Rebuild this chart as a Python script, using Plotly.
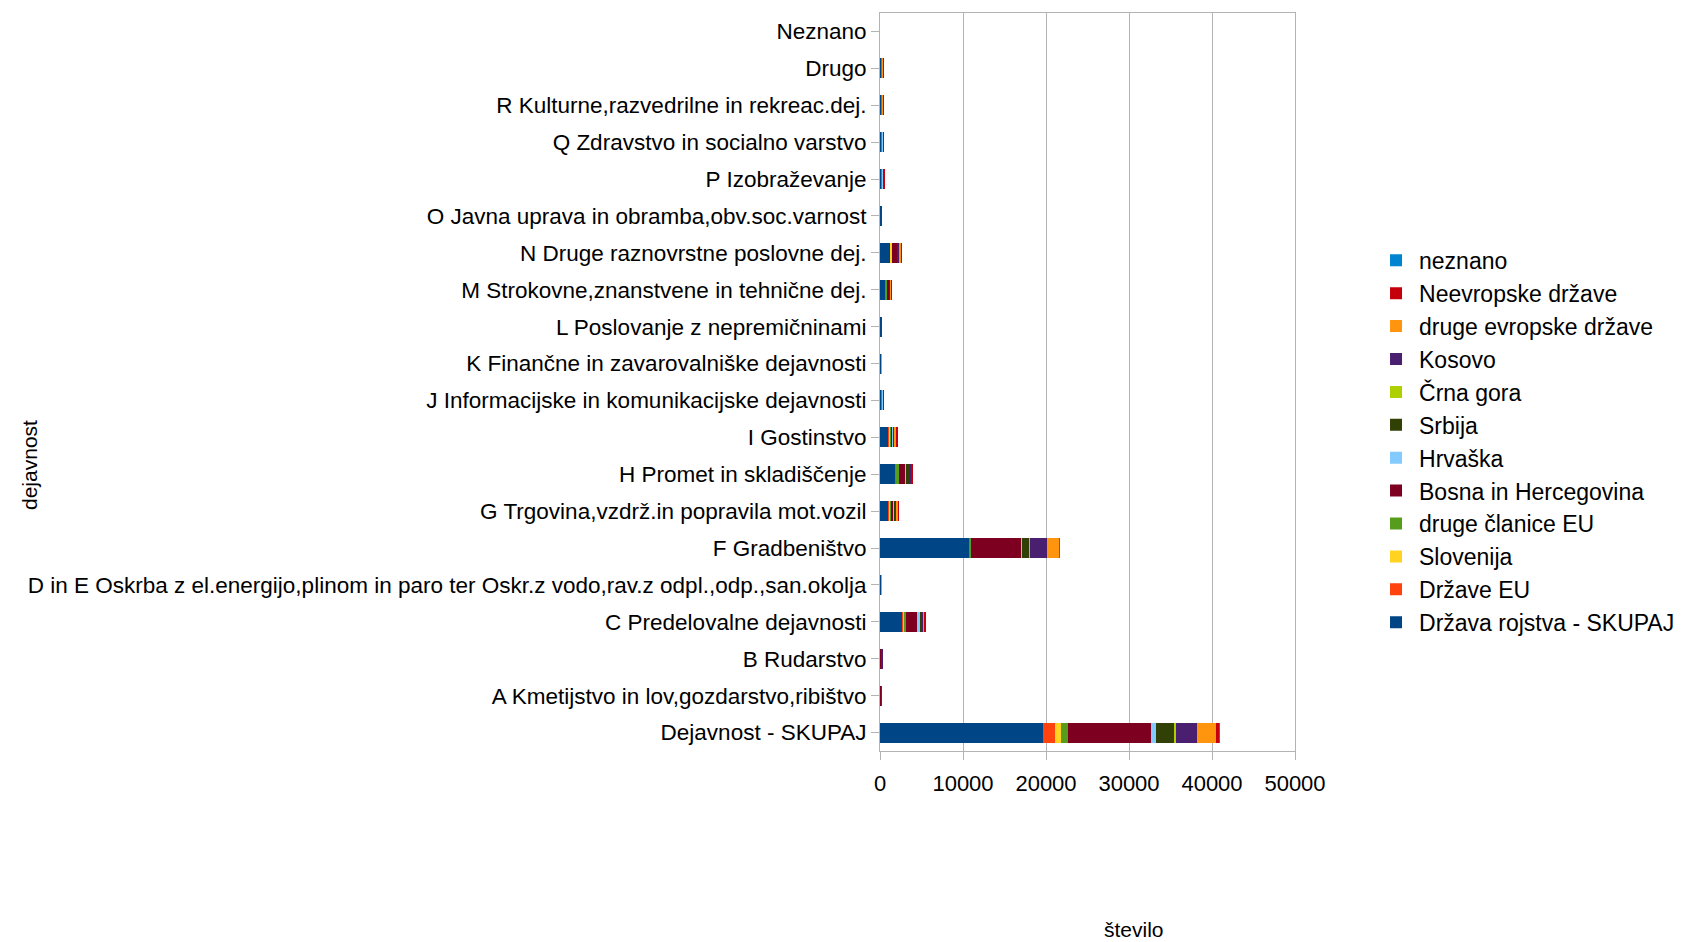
import plotly.graph_objects as go

categories = [
    "Dejavnost - SKUPAJ",
    "A Kmetijstvo in lov,gozdarstvo,ribištvo",
    "B Rudarstvo",
    "C Predelovalne dejavnosti",
    "D in E Oskrba z el.energijo,plinom in paro ter Oskr.z vodo,rav.z odpl.,odp.,san.okolja",
    "F Gradbeništvo",
    "G Trgovina,vzdrž.in popravila mot.vozil",
    "H Promet in skladiščenje",
    "I Gostinstvo",
    "J Informacijske in komunikacijske dejavnosti",
    "K Finančne in zavarovalniške dejavnosti",
    "L Poslovanje z nepremičninami",
    "M Strokovne,znanstvene in tehnične dej.",
    "N Druge raznovrstne poslovne dej.",
    "O Javna uprava in obramba,obv.soc.varnost",
    "P Izobraževanje",
    "Q Zdravstvo in socialno varstvo",
    "R Kulturne,razvedrilne in rekreac.dej.",
    "Drugo",
    "Neznano",
]

#                 SKUP   A    B    C     DE   F      G     H     I     J    K    L    M    N     O    P    Q    R    Drugo Nez
drzava_skupaj  = [19680, 90,  60,  2650, 120, 10830, 1080, 1910, 1080, 220, 120, 120, 680, 1250, 120, 240, 240, 240, 240, 0]
drzave_eu      = [1400,  10,  5,   220,  10,  40,    120,  100,  100,  30,  20,  10,  120, 40,   20,  30,  30,  20,  20,  0]
slovenija      = [760,   5,   0,   40,   0,   40,    40,   20,   60,   0,   0,   0,   20,  180,  0,   0,   0,   10,  0,   0]
druge_clanice  = [840,   5,   5,   220,  10,  10,    60,   200,  40,   20,  0,   0,   80,  20,   0,   20,  0,   0,   0,   0]
bosna          = [9960,  40,  160, 1420, 60,  6110,  380,  820,  250,  40,  40,  40,  200, 560,  40,  30,  40,  10,  0,   0]
hrvaska        = [600,   5,   5,   220,  0,   80,    60,   60,   40,   80,  20,  0,   40,  40,   20,  100, 90,  10,  0,   0]
srbija         = [2280,  15,  10,  340,  20,  870,   200,  580,  120,  20,  20,  20,  50,  180,  20,  0,   20,  0,   0,   0]
crna_gora      = [120,   0,   0,   20,   0,   100,   10,   20,   0,   0,   0,   0,   0,   10,   0,   0,   0,   0,   0,   0]
kosovo         = [2520,  5,   5,   60,   10,  2020,  60,   40,   40,   0,   0,   10,  20,  30,   0,   0,   0,   0,   0,   0]
druge_evropske = [2280,  5,   0,   220,  10,  1470,  180,  100,  220,  20,  20,  10,  120, 230,  10,  40,  30,  160, 190, 0]
neevropske     = [440,   5,   0,   80,   0,   80,    60,   30,   200,  20,  0,   30,  60,  20,   10,  30,  30,  30,  30,  0]
neznano        = [20,    0,   0,   0,   0,   5,     0,    0,    0,    0,   0,   0,   0,   0,    0,   0,   0,   0,   0,   0]

series = [
    ("Država rojstva - SKUPAJ", drzava_skupaj, "#004586"),
    ("Države EU", drzave_eu, "#ff420e"),
    ("Slovenija", slovenija, "#ffd320"),
    ("druge članice EU", druge_clanice, "#579d1c"),
    ("Bosna in Hercegovina", bosna, "#7e0021"),
    ("Hrvaška", hrvaska, "#83caff"),
    ("Srbija", srbija, "#314004"),
    ("Črna gora", crna_gora, "#aecf00"),
    ("Kosovo", kosovo, "#4b1f6f"),
    ("druge evropske države", druge_evropske, "#ff950e"),
    ("Neevropske države", neevropske, "#c5000b"),
    ("neznano", neznano, "#0084d1"),
]

x_ticks = [0, 10000, 20000, 30000, 40000, 50000]

fig = go.Figure()
for name, vals, color in series:
    fig.add_trace(go.Bar(
        y=categories, x=vals, name=name, orientation="h",
        marker=dict(color=color, line=dict(width=0)),
    ))

font_family = "Liberation Sans"
grid = "#b3b3b3"

# the page body adds an 8px offset; size the figure to fit the window
W, H = 1686, 934
ML, MR, MT, MB = 872, 399, 5, 191
pw, ph = W - ML - MR, H - MT - MB


def px_to_paper(px, py):
    return (px - ML) / pw, (H - MB - py) / ph


sx, sy = px_to_paper(1126, 921)
dx, dy = px_to_paper(21, 457)

fig.update_layout(
    barmode="stack",
    bargap=0.46,
    width=W, height=H,
    margin=dict(l=ML, r=MR, t=MT, b=MB, autoexpand=False),
    paper_bgcolor="white",
    plot_bgcolor="white",
    font=dict(family=font_family, color="#000000", size=22),
    showlegend=True,
    legend=dict(
        traceorder="reversed",
        x=1.188, xanchor="left",
        y=0.694, yanchor="top",
        itemwidth=36,
        font=dict(size=23, family=font_family),
        bgcolor="rgba(0,0,0,0)",
    ),
    xaxis=dict(
        range=[0, 50000],
        tickvals=x_ticks,
        ticktext=[str(v) for v in x_ticks],
        showgrid=True, gridcolor=grid, gridwidth=1,
        showline=True, linecolor=grid, linewidth=1, mirror=True,
        ticks="outside", ticklen=8, tickcolor=grid,
        ticklabelstandoff=5,
        zeroline=False,
        automargin=False,
        tickfont=dict(size=22),
    ),
    yaxis=dict(
        categoryorder="array", categoryarray=categories,
        showgrid=False,
        showline=True, linecolor=grid, linewidth=1, mirror=True,
        ticks="outside", ticklen=8, tickcolor=grid,
        automargin=False,
        tickfont=dict(size=22.5),
    ),
    annotations=[
        dict(text="število", x=sx, y=sy, xref="paper", yref="paper",
             xanchor="center", yanchor="middle",
             showarrow=False, font=dict(size=21)),
        dict(text="dejavnost", x=dx, y=dy, xref="paper", yref="paper",
             xanchor="center", yanchor="middle", textangle=-90,
             showarrow=False, font=dict(size=21)),
    ],
)

fig.write_html("out.html")
